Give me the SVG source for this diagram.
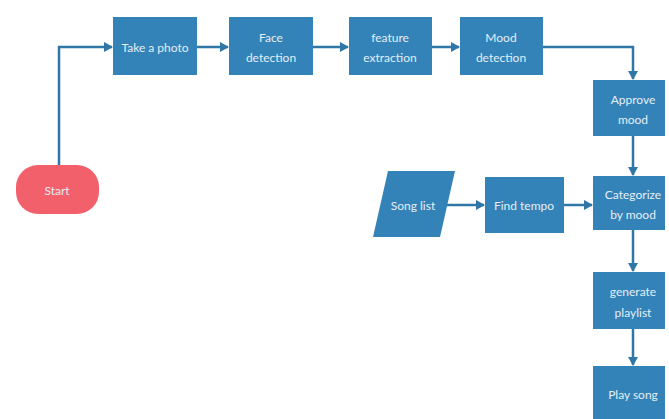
<svg xmlns="http://www.w3.org/2000/svg" width="669" height="419" viewBox="0 0 669 419">
<style>
.box{fill:#3383b8;}
.start{fill:#f2606b;}
.t{font-family:Lato,"Open Sans","Liberation Sans",sans-serif;font-size:12px;fill:#e4eef6;text-anchor:middle;dominant-baseline:central;}
.c{fill:none;stroke:#2f77a6;stroke-width:2.5;}
</style>
<defs>
<marker id="ah" markerWidth="9" markerHeight="10" refX="8" refY="5" orient="auto" markerUnits="userSpaceOnUse">
<path d="M0,0 L9,5 L0,10 Z" fill="#2f77a6"/>
</marker>
</defs>
<rect width="669" height="419" fill="#ffffff"/>
<g id="connectors">
<path class="c" d="M59,165 V47 H112" marker-end="url(#ah)"/>
<path class="c" d="M197,47 H228" marker-end="url(#ah)"/>
<path class="c" d="M313,47 H348" marker-end="url(#ah)"/>
<path class="c" d="M432,47 H459" marker-end="url(#ah)"/>
<path class="c" d="M543,47 H633 V79" marker-end="url(#ah)"/>
<path class="c" d="M633,136 V175" marker-end="url(#ah)"/>
<path class="c" d="M446,205 H484" marker-end="url(#ah)"/>
<path class="c" d="M564,205 H592" marker-end="url(#ah)"/>
<path class="c" d="M633,230 V271" marker-end="url(#ah)"/>
<path class="c" d="M633,329 V365" marker-end="url(#ah)"/>
</g>
<g id="start">
<rect class="start" x="16" y="165" width="83" height="49" rx="22"/>
<text class="t" x="57" y="190">Start</text>
</g>
<g id="take-photo">
<rect class="box" x="113" y="17" width="84" height="58"/>
<text class="t" x="155" y="47">Take a photo</text>
</g>
<g id="face-detection">
<rect class="box" x="229" y="17" width="84" height="58"/>
<text class="t" x="271" y="37">Face</text>
<text class="t" x="271" y="57">detection</text>
</g>
<g id="feature-extraction">
<rect class="box" x="349" y="17" width="83" height="58"/>
<text class="t" x="390" y="37">feature</text>
<text class="t" x="390" y="57">extraction</text>
</g>
<g id="mood-detection">
<rect class="box" x="460" y="17" width="83" height="58"/>
<text class="t" x="501" y="37">Mood</text>
<text class="t" x="501" y="57">detection</text>
</g>
<g id="approve-mood">
<rect class="box" x="593" y="80" width="72" height="56"/>
<text class="t" x="633" y="99">Approve</text>
<text class="t" x="633" y="119">mood</text>
</g>
<g id="song-list">
<polygon class="box" points="388,171 455,171 440,237 373,237"/>
<text class="t" x="413" y="205">Song list</text>
</g>
<g id="find-tempo">
<rect class="box" x="485" y="177" width="79" height="56"/>
<text class="t" x="524" y="205">Find tempo</text>
</g>
<g id="categorize">
<rect class="box" x="593" y="176" width="72" height="54"/>
<text class="t" x="633" y="194">Categorize</text>
<text class="t" x="633" y="214">by mood</text>
</g>
<g id="generate-playlist">
<rect class="box" x="593" y="272" width="72" height="57"/>
<text class="t" x="633" y="291">generate</text>
<text class="t" x="633" y="312">playlist</text>
</g>
<g id="play-song">
<rect class="box" x="593" y="366" width="72" height="58"/>
<text class="t" x="633" y="394">Play song</text>
</g>
</svg>
